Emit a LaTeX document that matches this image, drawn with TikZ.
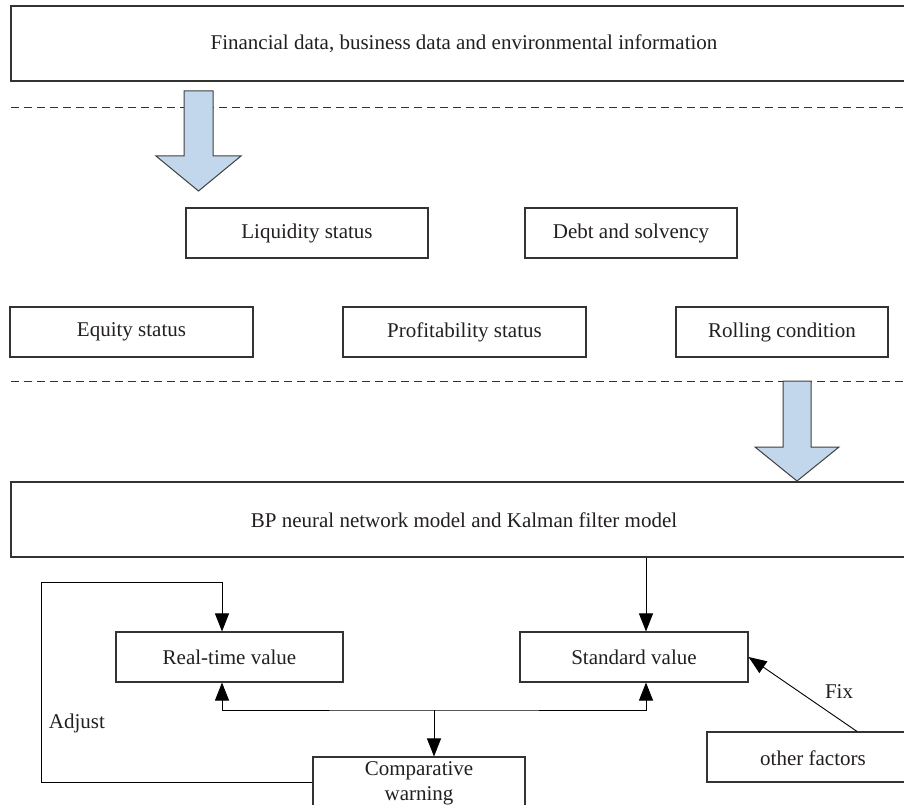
\documentclass[tikz,border=0pt]{standalone}
\usepackage{fontspec}
\setmainfont{Liberation Serif}
\usetikzlibrary{arrows.meta}
\definecolor{boxline}{HTML}{333333}
\definecolor{arrfill}{HTML}{C3D7EC}
\definecolor{arrline}{HTML}{404040}
\definecolor{txt}{HTML}{231F20}
\tikzset{
  box/.style={draw=boxline, line width=1.1pt, inner sep=0pt, text=txt,
    font=\fontsize{21}{25}\selectfont, align=center},
  lbl/.style={inner sep=0pt, text=txt, font=\fontsize{21}{25}\selectfont},
  conn/.style={draw=black, line width=0.9pt, -{Triangle[length=18pt,width=14pt]}},
  conn2/.style={draw=black, line width=0.9pt, {Triangle[length=18pt,width=14pt]}-{Triangle[length=18pt,width=14pt]}},
  plain/.style={draw=black, line width=0.9pt},
  sep/.style={draw=boxline, line width=0.9pt, dash pattern=on 8pt off 5pt},
  bigarrow/.style={draw=arrline, line width=1pt, fill=arrfill, line join=miter}
}
\begin{document}
\begin{tikzpicture}[x=1pt,y=-1pt]
\useasboundingbox (0,0) rectangle (904,805);
\fill[white] (0,0) rectangle (904,805);

% top box
\node[box, minimum width=899pt, minimum height=75pt] (top) at (460.5,43.5) {};
\node[lbl] (toptxt) at (464,44) {Financial data, business data and environmental information};

% separators
\draw[sep] (11,107) -- (904,107);
\draw[sep] (11,381) -- (904,381);

% big arrow 1
\draw[bigarrow] (184,91) -- (213,91) -- (213,156) -- (241,156) -- (198.5,191) -- (156,156) -- (184,156) -- cycle;

% indicator boxes
\node[box, minimum width=242pt, minimum height=50pt] (liq) at (307,233) {Liquidity status};
\node[box, minimum width=212pt, minimum height=50pt] (debt) at (631,233) {Debt and solvency};
\node[box, minimum width=243pt, minimum height=50pt] (eq) at (131.5,332) {Equity status};
\node[box, minimum width=243pt, minimum height=50pt] (prof) at (464.5,332) {Profitability status};
\node[box, minimum width=212pt, minimum height=50pt] (roll) at (782,332) {Rolling condition};

% big arrow 2
\draw[bigarrow] (783,381) -- (811,381) -- (811,447) -- (839,447) -- (797,481) -- (755,447) -- (783,447) -- cycle;

% model box
\node[box, minimum width=899pt, minimum height=75pt] (bp) at (460.5,519.5) {};
\node[lbl] (bptxt) at (464,520) {BP neural network model and Kalman filter model};

% value boxes
\node[box, minimum width=227pt, minimum height=50pt] (rt) at (229.5,657) {Real-time value};
\node[box, minimum width=228pt, minimum height=50pt] (sv) at (634,657) {Standard value};

% comparative warning
\node[box, minimum width=212pt, minimum height=52pt] (cw) at (419,783) {Comparative\\warning};

% other factors
\node[box, minimum width=199pt, minimum height=50pt] (of) at (806.5,757) {};
\node[lbl] (oftxt) at (813,758) {other factors};

% labels
\node[lbl] (adj) at (77,723) {Adjust};
\node[lbl] (fix) at (839,692) {Fix};

% coordinates
\coordinate (lpb) at (41,782);
\coordinate (lpt) at (41,582);
\coordinate (jn) at (434,710);

% connectors
\draw[conn] (cw.west |- lpb) -- (lpb) -- (lpt) -| ([xshift=-7.5pt]rt.north);
\draw[conn] ([xshift=12pt]sv.north |- bp.south) -- ([xshift=12pt]sv.north);
\draw[conn2] ([xshift=-7.5pt]rt.south) |- (jn) -| ([xshift=12pt]sv.south);
\draw[conn] (jn) -- (jn |- cw.north);
\draw[conn] ([xshift=50.5pt]of.north) -- (sv.east);
\end{tikzpicture}
\end{document}
